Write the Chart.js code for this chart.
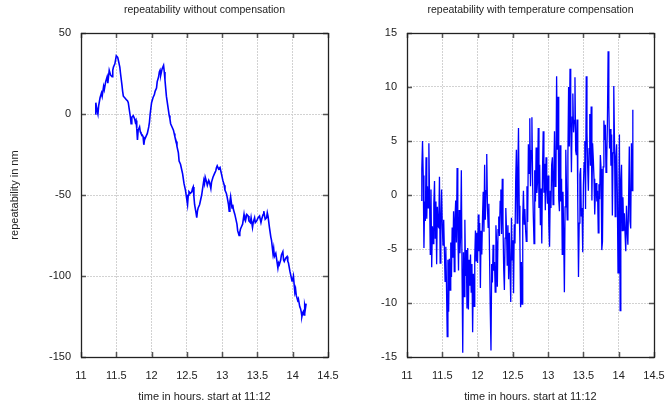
<!DOCTYPE html>
<html><head><meta charset="utf-8">
<script src="https://cdn.jsdelivr.net/npm/chart.js@4/dist/chart.umd.min.js"></script>
<style>
html,body{margin:0;padding:0;background:#fff;width:666px;height:406px;overflow:hidden}
canvas{position:absolute;top:0}
#c1{left:0}
#c2{left:340px}
</style></head><body>
<canvas id="c1" width="340" height="406"></canvas>
<canvas id="c2" width="326" height="406"></canvas>
<script>
// ---- data ----
const xTickValues = [11, 11.5, 12, 12.5, 13, 13.5, 14, 14.5];
const leftYTickValues = [-150, -100, -50, 0, 50];
const rightYTickValues = [-15, -10, -5, 0, 5, 10, 15];

const leftTime = [11.20,11.21,11.22,11.24,11.25,11.27,11.29,11.30,11.32,11.33,11.35,11.37,11.38,11.40,11.42,11.44,11.45,11.46,11.48,11.50,
11.52,11.53,11.55,11.56,11.58,11.59,11.60,11.62,11.64,11.66,11.67,11.69,11.70,11.71,11.72,11.74,11.76,11.77,11.78,11.79,
11.80,11.81,11.83,11.84,11.85,11.87,11.88,11.89,11.90,11.92,11.94,11.96,11.97,11.98,12.00,12.02,12.04,12.05,12.07,12.08,
12.10,12.11,12.12,12.13,12.14,12.15,12.17,12.18,12.19,12.20,12.21,12.23,12.25,12.26,12.27,12.29,12.31,12.32,12.33,12.35,
12.36,12.38,12.39,12.41,12.42,12.44,12.45,12.46,12.48,12.49,12.50,12.51,12.52,12.53,12.55,12.57,12.58,12.59,12.60,12.61,
12.63,12.64,12.65,12.66,12.68,12.69,12.71,12.72,12.74,12.75,12.76,12.78,12.79,12.81,12.82,12.84,12.85,12.87,12.89,12.91,
12.92,12.93,12.95,12.97,12.99,13.01,13.03,13.04,13.06,13.07,13.09,13.10,13.11,13.12,13.14,13.15,13.16,13.18,13.19,13.21,
13.22,13.24,13.25,13.26,13.28,13.29,13.31,13.32,13.33,13.35,13.37,13.38,13.40,13.41,13.43,13.44,13.46,13.47,13.49,13.51,
13.53,13.55,13.56,13.58,13.59,13.61,13.63,13.64,13.65,13.67,13.69,13.70,13.72,13.73,13.74,13.76,13.77,13.79,13.80,13.81,
13.83,13.84,13.86,13.87,13.88,13.90,13.92,13.93,13.94,13.96,13.97,13.99,14.00,14.01,14.03,14.04,14.05,14.07,14.08,14.10,
14.11,14.12,14.13,14.14,14.15,14.16,14.17,14.18,14.19];
const leftRepeat = [0,7,4,0,5,10,13,11,17,15,20,23,19,27,24,23,27,29,31,36,
35,33,29,25,18,14,11,10,9,8,7,1,-2,-6,-2,-1,-3,-5,-4,-9,
-16,-10,-8,-11,-12,-13,-14,-19,-16,-14,-12,-8,-5,0,7,10,12,14,16,20,
23,26,27,24,26,28,30,26,21,16,11,5,-1,-3,-6,-8,-10,-12,-14,-17,
-20,-24,-29,-31,-33,-37,-40,-43,-47,-50,-53,-56,-50,-48,-49,-48,-46,-45,-51,-56,
-61,-64,-60,-58,-56,-54,-50,-47,-41,-43,-39,-42,-44,-41,-42,-46,-42,-39,-37,-35,
-33,-32,-34,-33,-37,-41,-44,-47,-49,-51,-56,-60,-54,-51,-58,-56,-59,-62,-64,-68,
-72,-75,-73,-71,-69,-68,-62,-65,-66,-62,-63,-66,-67,-64,-70,-67,-64,-67,-66,-64,
-63,-67,-65,-62,-60,-65,-64,-61,-63,-70,-76,-78,-86,-83,-88,-86,-89,-95,-92,-93,
-90,-87,-85,-90,-91,-89,-88,-91,-92,-97,-99,-103,-102,-100,-110,-108,-112,-115,-114,-119,
-120,-122,-125,-123,-122,-124,-118,-120,-117];

const rightTime = [
11.20,11.21,11.22,11.23,11.24,11.25,11.26,11.27,11.28,11.29,
11.30,11.31,11.32,11.33,11.34,11.35,11.36,11.37,11.38,11.39,
11.40,11.41,11.42,11.43,11.44,11.45,11.46,11.47,11.48,11.49,
11.50,11.51,11.52,11.53,11.54,11.55,11.56,11.57,11.58,11.59,
11.60,11.61,11.62,11.63,11.64,11.65,11.66,11.67,11.68,11.69,
11.70,11.71,11.72,11.73,11.74,11.75,11.76,11.77,11.78,11.79,
11.80,11.81,11.82,11.83,11.84,11.85,11.86,11.87,11.88,11.89,
11.90,11.91,11.92,11.93,11.94,11.95,11.96,11.97,11.98,11.99,
12.00,12.01,12.02,12.03,12.04,12.05,12.06,12.07,12.08,12.09,
12.10,12.11,12.12,12.13,12.14,12.15,12.16,12.17,12.18,12.19,
12.20,12.21,12.22,12.23,12.24,12.25,12.26,12.27,12.28,12.29,
12.30,12.31,12.32,12.33,12.34,12.35,12.36,12.37,12.38,12.39,
12.40,12.41,12.42,12.43,12.44,12.45,12.46,12.47,12.48,12.49,
12.50,12.51,12.52,12.53,12.54,12.55,12.56,12.57,12.58,12.59,
12.60,12.61,12.62,12.63,12.64,12.65,12.66,12.67,12.68,12.69,
12.70,12.71,12.72,12.73,12.74,12.75,12.76,12.77,12.78,12.79,
12.80,12.81,12.82,12.83,12.84,12.85,12.86,12.87,12.88,12.89,
12.90,12.91,12.92,12.93,12.94,12.95,12.96,12.97,12.98,12.99,
13.00,13.01,13.02,13.03,13.04,13.05,13.06,13.07,13.08,13.09,
13.10,13.11,13.12,13.13,13.14,13.15,13.16,13.17,13.18,13.19,
13.20,13.21,13.22,13.23,13.24,13.25,13.26,13.27,13.28,13.29,
13.30,13.31,13.32,13.33,13.34,13.35,13.36,13.37,13.38,13.39,
13.40,13.41,13.42,13.43,13.44,13.45,13.46,13.47,13.48,13.49,
13.50,13.51,13.52,13.53,13.54,13.55,13.56,13.57,13.58,13.59,
13.60,13.61,13.62,13.63,13.64,13.65,13.66,13.67,13.68,13.69,
13.70,13.71,13.72,13.73,13.74,13.75,13.76,13.77,13.78,13.79,
13.80,13.81,13.82,13.83,13.84,13.85,13.86,13.87,13.88,13.89,
13.90,13.91,13.92,13.93,13.94,13.95,13.96,13.97,13.98,13.99,
14.00,14.01,14.02,14.03,14.04,14.05,14.06,14.07,14.08,14.09,
14.10,14.11,14.12,14.13,14.14,14.15,14.16,14.17,14.18,14.19,
14.20];
const rightRepeat = [
-0.5,2.4,5.0,1.8,-4.9,-0.6,-2.4,3.5,-2.2,0.8,
-1.2,4.8,-0.4,-5.5,0.5,-6.7,-2.9,-4.5,-0.8,1.3,
-4.0,-0.6,-6.4,-1.1,-2.9,-3.0,1.7,-6.3,-2.6,0.5,
-2.8,-4.7,-2.3,-5.2,-8.0,-4.8,-8.6,-13.1,-6.0,-10.8,
-5.9,-8.8,-4.4,-7.6,-3.0,-5.8,-1.5,-7.1,-2.2,-0.5,
-4.4,2.5,-3.2,-7.0,-1.4,-5.4,-3.6,2.3,-7.2,-14.6,
-5.3,-9.4,-2.3,-7.5,-5.1,-10.5,-4.9,-10.6,-6.0,-8.4,
-5.5,-9.0,-6.4,-12.7,-7.3,-10.3,-5.8,-3.3,-6.1,-3.5,
-6.3,-1.8,-5.2,-2.6,-8.6,-3.3,-5.5,-2.1,0.3,-3.4,
2.8,-2.3,0.4,3.8,-1.1,-3.0,-0.8,-5.8,-10.7,-14.4,
-6.4,-8.1,-4.6,-7.0,-6.2,-9.0,-2.8,-4.5,-8.5,-3.2,
-2.0,-3.8,-0.6,0.5,-3.6,1.5,-2.5,-6.8,-8.8,-4.0,
-1.2,-3.2,-6.5,-2.8,-7.8,-3.5,-6.8,-9.9,-2.1,-6.0,
-4.2,-9.1,-2.7,-4.5,1.2,4.2,-2.6,2.0,6.2,-1.0,
-4.4,-10.4,-6.2,-10.1,-2.1,0.4,-2.7,-1.3,-3.2,-4.3,
0.8,-2.5,4.7,2.0,7.1,0.8,4.1,7.2,1.2,-2.0,
-4.5,2.3,-0.6,4.4,0.2,1.3,6.2,-1.2,2.8,-2.8,
0.6,-4.5,2.1,5.9,0.2,2.9,-1.4,3.5,1.0,-0.8,
1.8,-2.9,-4.8,0.4,-1.2,2.8,3.5,-0.9,1.5,5.9,
0.8,1.0,11.0,4.2,9.1,-0.4,-1.5,4.6,-0.6,1.5,
-5.5,0.3,-3.5,-9.0,-1.1,4.2,0.7,-2.3,3.6,10.0,
4.5,11.7,6.8,2.1,7.2,9.4,5.8,6.9,10.9,4.1,
3.7,7.0,-0.8,-7.6,-2.6,1.9,2.5,-2.0,-1.2,-5.3,
0.9,3.0,5.0,-1.3,11.0,5.9,2.6,0.4,4.3,7.5,
2.7,8.2,-0.5,4.8,3.3,1.5,-1.8,0.3,1.1,-0.6,
0.4,-3.5,1.0,-0.4,3.7,2.4,-5.1,-4.3,2.6,6.9,
5.1,6.5,2.1,3.1,6.8,13.3,8.3,4.3,6.1,2.7,
5.6,-1.9,3.9,10.1,5.0,-2.0,3.5,4.7,0.3,-7.2,
-2.5,5.6,-10.7,1.3,2.8,-3.3,-0.2,-3.3,-1.7,-3.6,
-5.2,-1.0,-3.3,-4.6,-0.5,4.5,-2.4,-3.1,4.8,0.4,
7.9];

// ---- styling ----
const FONT = '"Liberation Sans", Arial, Helvetica, sans-serif';
const TEXT = '#222';

const framePlugin = {
  id: 'frame',
  afterDraw(chart) {
    const {ctx, chartArea: {left, right, top, bottom}, scales: {x, y}} = chart;
    ctx.save();
    ctx.strokeStyle = '#555';
    ctx.lineWidth = 1.5;
    ctx.beginPath();
    const L = 5;
    x.ticks.forEach(t => {
      const px = Math.round(x.getPixelForValue(t.value)) + 0.5;
      ctx.moveTo(px, bottom); ctx.lineTo(px, bottom - L);
      ctx.moveTo(px, top); ctx.lineTo(px, top + L);
    });
    y.ticks.forEach(t => {
      const py = Math.round(y.getPixelForValue(t.value)) + 0.5;
      ctx.moveTo(left, py); ctx.lineTo(left + L, py);
      ctx.moveTo(right, py); ctx.lineTo(right - L, py);
    });
    ctx.stroke();
    ctx.strokeStyle = '#222';
    ctx.lineWidth = 1.3;
    ctx.strokeRect(Math.round(left) + 0.5, Math.round(top) + 0.5, Math.round(right - left), Math.round(bottom - top));
    ctx.restore();
  }
};

function makeChart(canvasId, times, values, cfg) {
  const points = times.map((t, i) => ({x: t, y: values[i]}));
  return new Chart(document.getElementById(canvasId), {
    type: 'line',
    data: {datasets: [{
      data: points, borderColor: '#0000ff', borderWidth: cfg.lineWidth,
      pointRadius: 0, tension: 0, fill: false
    }]},
    options: {
      responsive: false, animation: false, devicePixelRatio: 1,
      layout: {padding: {left: 0, right: cfg.padRight, top: 0, bottom: 0}},
      plugins: {
        legend: {display: false},
        tooltip: {enabled: false},
        title: {
          display: true, text: cfg.title, fullSize: false, color: TEXT,
          font: {family: FONT, size: 10.5, weight: 'normal'},
          padding: {top: 4, bottom: 16.4}
        }
      },
      scales: {
        x: {
          type: 'linear', min: 11, max: 14.5,
          afterBuildTicks(s) { s.ticks = xTickValues.map(v => ({value: v})); },
          afterFit(s) { s.height = 49; s.paddingLeft = 0; s.paddingRight = 0; },
          grid: {color: '#d2d2d2', lineWidth: 1, drawTicks: false},
          border: {display: false, dash: [2, 1]},
          ticks: {padding: 12, color: TEXT, maxRotation: 0, autoSkip: false,
                  font: {family: FONT, size: 11}, callback: v => String(v)},
          title: {display: true, text: 'time in hours. start at 11:12', color: TEXT,
                  font: {family: FONT, size: 11}, padding: {top: 0, bottom: 2}}
        },
        y: {
          type: 'linear', min: cfg.ymin, max: cfg.ymax,
          afterBuildTicks(s) { s.ticks = cfg.yTicks.map(v => ({value: v})); },
          afterFit(s) { s.width = cfg.yWidth; s.paddingTop = 0; s.paddingBottom = 0; },
          grid: {color: '#d2d2d2', lineWidth: 1, drawTicks: false},
          border: {display: false, dash: [2, 1]},
          ticks: {padding: 10, color: TEXT, autoSkip: false,
                  font: {family: FONT, size: 11}, callback: v => String(v)},
          title: {display: !!cfg.yTitle, text: cfg.yTitle || '', color: TEXT,
                  font: {family: FONT, size: 11}, padding: {top: 8.4, bottom: 0}}
        }
      }
    },
    plugins: [framePlugin]
  });
}

makeChart('c1', leftTime, leftRepeat, {
  title: 'repeatability without compensation', ymin: -150, ymax: 50,
  yTicks: leftYTickValues, yWidth: 81, padRight: 12, yTitle: 'repeatability in nm', lineWidth: 1.6
});
makeChart('c2', rightTime, rightRepeat, {
  title: 'repeatability with temperature compensation', ymin: -15, ymax: 15,
  yTicks: rightYTickValues, yWidth: 67, padRight: 12, yTitle: '', lineWidth: 1.3
});
</script>
</body></html>
